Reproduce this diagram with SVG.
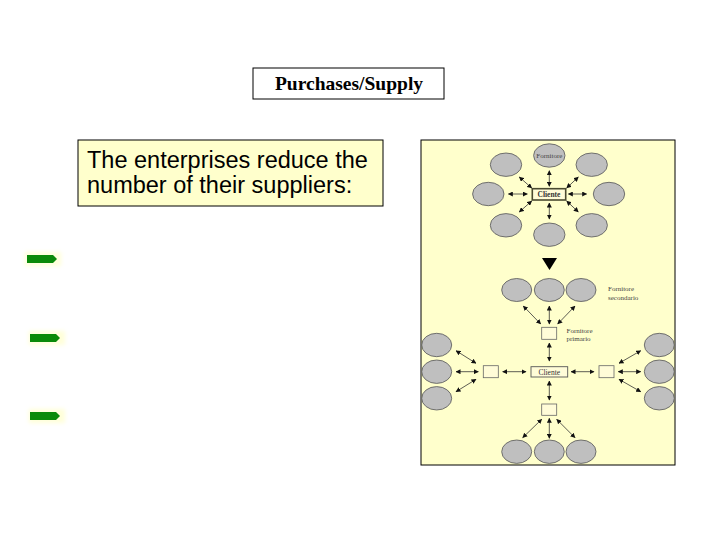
<svg xmlns="http://www.w3.org/2000/svg" width="720" height="540" viewBox="0 0 720 540">
<defs>
<marker id="ah" viewBox="0 0 10 10" refX="9" refY="5" markerWidth="5" markerHeight="5" orient="auto-start-reverse" markerUnits="userSpaceOnUse">
<path d="M0,0 L10,5 L0,10 z" fill="#111"/>
</marker>
<filter id="glow" x="-30%" y="-80%" width="160%" height="260%"><feGaussianBlur stdDeviation="2"/></filter>
<style>
.ell{fill:#bfbfbf;stroke:#555;stroke-width:0.8}
.sb{fill:#fffcd8;stroke:#666;stroke-width:0.8}
.con line{stroke:#333;stroke-width:0.8;marker-start:url(#ah);marker-end:url(#ah)}
.tiny{font-family:"Liberation Serif",serif;font-size:7px;fill:#444}
.garrow{fill:#0a8a0a}
.halo{fill:#ffffc0;opacity:0.6;filter:url(#glow)}
</style>
</defs>
<rect width="720" height="540" fill="#fff"/>

<g id="title">
<rect x="253" y="68" width="191" height="31" fill="#fff" stroke="#000" stroke-width="1"/>
<text x="349" y="90" text-anchor="middle" font-family="Liberation Serif, serif" font-weight="bold" font-size="19.5">Purchases/Supply</text>
</g>

<g id="statement">
<rect x="78" y="140" width="305" height="66" fill="#ffffcc" stroke="#000" stroke-width="1"/>
<text font-family="Liberation Sans, Arial, sans-serif" font-size="23.5" fill="#000">
<tspan x="87" y="168">The enterprises reduce the</tspan>
<tspan x="87" y="193">number of their suppliers:</tspan>
</text>
</g>

<g id="bullets">
<g id="bullet1">
<rect class="halo" x="25" y="252" width="36" height="14"/>
<path class="garrow" d="M27,255 H53 L57,259 L53,263 H27 z"/>
</g>
<g id="bullet2">
<rect class="halo" x="29" y="331" width="36" height="14"/>
<path class="garrow" d="M30,334 H56 L60,338 L56,342 H30 z"/>
</g>
<g id="bullet3">
<rect class="halo" x="29" y="409" width="36" height="14"/>
<path class="garrow" d="M30,412 H56 L60,416 L56,420 H30 z"/>
</g>
</g>

<g id="panel">
<rect x="421" y="140" width="254" height="325" fill="#ffffcc" stroke="#000" stroke-width="1"/>
</g>

<g id="top-cluster">
<ellipse class="ell" cx="549.3" cy="155.5" rx="15.7" ry="11.7"/>
<text class="tiny" x="549.3" y="158" text-anchor="middle">Fornitore</text>
<ellipse class="ell" cx="506" cy="164.7" rx="15.7" ry="11.7"/>
<ellipse class="ell" cx="591.7" cy="164.7" rx="15.7" ry="11.7"/>
<ellipse class="ell" cx="488.3" cy="194" rx="15.7" ry="11.7"/>
<ellipse class="ell" cx="609" cy="194" rx="15.7" ry="11.7"/>
<ellipse class="ell" cx="506" cy="225.3" rx="15.7" ry="11.7"/>
<ellipse class="ell" cx="591.7" cy="225.3" rx="15.7" ry="11.7"/>
<ellipse class="ell" cx="549.3" cy="234.7" rx="15.7" ry="11.7"/>
<g id="cliente-top">
<rect x="532.3" y="188.7" width="33.4" height="11.3" fill="#fffcd8" stroke="#4a4a30" stroke-width="1.6"/>
<text x="549" y="197" text-anchor="middle" font-family="Liberation Serif, serif" font-weight="bold" font-size="7.5" fill="#333">Cliente</text>
</g>
</g>

<g id="transition">
<path d="M542,258 L557,258 L549.5,270 z" fill="#000"/>
</g>

<g id="bottom-cluster">
<ellipse class="ell" cx="516.7" cy="290" rx="15" ry="11.5"/>
<ellipse class="ell" cx="549.3" cy="290" rx="15" ry="11.5"/>
<ellipse class="ell" cx="581" cy="290" rx="15" ry="11.5"/>
<text class="tiny" x="608" y="291">Fornitore</text>
<text class="tiny" x="608" y="299.5">secondario</text>

<g id="primario"><rect class="sb" x="541.7" y="327.3" width="15" height="12"/></g>
<text class="tiny" x="566.5" y="333">Fornitore</text>
<text class="tiny" x="566.5" y="341">primario</text>

<ellipse class="ell" cx="436.7" cy="345" rx="15" ry="11.7"/>
<ellipse class="ell" cx="436.7" cy="371.7" rx="15" ry="11.7"/>
<ellipse class="ell" cx="436.7" cy="398.3" rx="15" ry="11.7"/>
<ellipse class="ell" cx="659.3" cy="345" rx="15" ry="11.7"/>
<ellipse class="ell" cx="659.3" cy="371.7" rx="15" ry="11.7"/>
<ellipse class="ell" cx="659.3" cy="398.3" rx="15" ry="11.7"/>

<g id="box-left"><rect class="sb" x="483.3" y="365.7" width="15" height="12"/></g>
<g id="box-right"><rect class="sb" x="599" y="365.7" width="15" height="12"/></g>
<g id="cliente-bottom">
<rect x="531" y="366.7" width="36.7" height="10.3" fill="#fffcd8" stroke="#555" stroke-width="0.9"/>
<text x="549.3" y="374.6" text-anchor="middle" font-family="Liberation Serif, serif" font-size="7.5" fill="#333">Cliente</text>
</g>
<g id="box-bottom"><rect class="sb" x="541.7" y="404" width="15" height="11.3"/></g>

<ellipse class="ell" cx="516.7" cy="451.7" rx="15" ry="11.7"/>
<ellipse class="ell" cx="549.3" cy="451.7" rx="15" ry="11.7"/>
<ellipse class="ell" cx="581" cy="451.7" rx="15" ry="11.7"/>
</g>

<g id="connectors" class="con">
<line x1="549.3" y1="186.3" x2="549.3" y2="170.7"/>
<line x1="549.3" y1="203" x2="549.3" y2="219"/>
<line x1="527.3" y1="194" x2="508.3" y2="194"/>
<line x1="568.3" y1="194" x2="586.7" y2="194"/>
<line x1="531.7" y1="188" x2="519.3" y2="177"/>
<line x1="566.7" y1="188" x2="578.3" y2="177"/>
<line x1="531.7" y1="201" x2="519.3" y2="212"/>
<line x1="566.7" y1="201" x2="578.3" y2="212"/>

<line x1="540.7" y1="324" x2="523.3" y2="306"/>
<line x1="549.3" y1="324" x2="549.3" y2="306"/>
<line x1="557.7" y1="324" x2="575" y2="306"/>

<line x1="549.3" y1="343" x2="549.3" y2="361"/>
<line x1="502.7" y1="371.7" x2="526" y2="371.7"/>
<line x1="571" y1="371.7" x2="594" y2="371.7"/>
<line x1="476" y1="363.3" x2="456" y2="350.7"/>
<line x1="478.3" y1="371.7" x2="456" y2="371.7"/>
<line x1="476" y1="379.3" x2="456" y2="391.7"/>
<line x1="619" y1="363.3" x2="640.7" y2="350.7"/>
<line x1="618.3" y1="371.7" x2="640.7" y2="371.7"/>
<line x1="619" y1="379.3" x2="640.7" y2="391.7"/>
<line x1="549.3" y1="381" x2="549.3" y2="400"/>
<line x1="541.7" y1="419.3" x2="522.7" y2="437.7"/>
<line x1="549.3" y1="418.3" x2="549.3" y2="438.3"/>
<line x1="556.7" y1="419.3" x2="575" y2="437.7"/>
</g>
</svg>
